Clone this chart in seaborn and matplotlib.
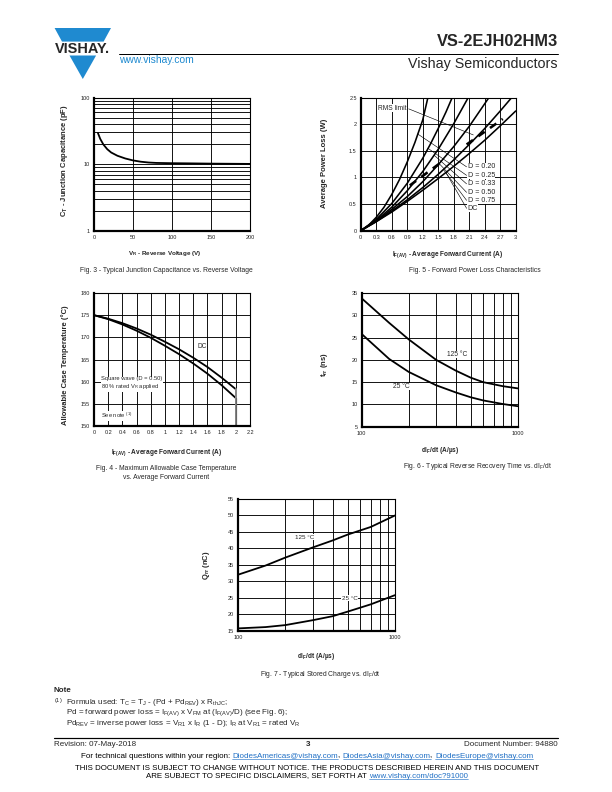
"""
VS-2EJH02HM3 datasheet page 3 - characteristic curves
"""

import matplotlib
matplotlib.use('Agg')
import matplotlib.pyplot as plt
import seaborn as sns
import numpy as np
import pandas as pd

sns.set_theme(style="white")
plt.rcParams['font.family'] = ['Liberation Sans', 'DejaVu Sans']
plt.rcParams['mathtext.fontset'] = 'custom'
plt.rcParams['mathtext.rm'] = 'Liberation Sans'
plt.rcParams['mathtext.bf'] = 'Liberation Sans:bold'
plt.rcParams['mathtext.it'] = 'Liberation Sans:italic'
plt.rcParams['mathtext.default'] = 'regular'

# ============ data ============

# Fig. 3 - junction capacitance
vr = [5, 8, 12, 17, 22, 30, 40, 50, 60, 70, 80, 100, 120, 150, 200]
ct = [29.5, 24.0, 19.8, 16.8, 15.0, 13.4, 12.2, 11.4, 10.9, 10.6, 10.45, 10.35, 10.3, 10.2, 10.1]

# Fig. 5 - forward power loss
if_d20 = [0, 0.15, 0.3, 0.45, 0.6, 0.75, 0.9, 1.05, 1.2, 1.3]
pl_d20 = [0, 0.10, 0.25, 0.44, 0.68, 0.96, 1.29, 1.66, 2.08, 2.5]
if_d25 = [0, 0.3, 0.6, 0.9, 1.2, 1.35, 1.5, 1.65, 1.77]
pl_d25 = [0, 0.21, 0.51, 0.89, 1.36, 1.63, 1.92, 2.23, 2.5]
if_d33 = [0, 0.3, 0.6, 0.9, 1.2, 1.5, 1.8, 2.08]
pl_d33 = [0, 0.19, 0.44, 0.75, 1.11, 1.53, 2.01, 2.5]
if_d50 = [0, 0.3, 0.6, 0.9, 1.2, 1.5, 1.8, 2.1, 2.48]
pl_d50 = [0, 0.18, 0.40, 0.64, 0.92, 1.24, 1.58, 1.96, 2.5]
if_d75 = [0, 0.3, 0.6, 0.9, 1.2, 1.5, 1.8, 2.1, 2.4, 2.7, 2.92]
pl_d75 = [0, 0.17, 0.37, 0.58, 0.81, 1.06, 1.33, 1.62, 1.92, 2.25, 2.5]
if_dc = [0, 0.3, 0.6, 0.9, 1.2, 1.5, 1.8, 2.1, 2.4, 2.7, 3.0]
pl_dc = [0, 0.17, 0.35, 0.55, 0.76, 0.98, 1.21, 1.45, 1.70, 1.97, 2.25]
duty_labels = ['D = 0.20', 'D = 0.25', 'D = 0.33', 'D = 0.50', 'D = 0.75', 'DC']
duty_label_y = [1.20, 1.04, 0.88, 0.72, 0.57, 0.42]
leader_x = [1.10, 1.30, 1.42, 1.52, 1.60, 1.65]
leader_y = [1.82, 1.55, 1.42, 1.26, 1.15, 1.09]
rms_lo_x = [0.95, 1.55]
rms_lo_y = [0.85, 1.28]
rms_hi_x = [2.05, 2.75]
rms_hi_y = [1.62, 2.10]

# Fig. 4 - allowable case temperature
ifav = [0, 0.2, 0.4, 0.6, 0.8, 1.0, 1.2, 1.4, 1.6, 1.8, 2.0]
tc_dc = [175, 174.2, 173.2, 172.0, 170.6, 169.0, 167.3, 165.4, 163.3, 160.9, 158.3]
tc_sq = [175, 174.1, 172.9, 171.5, 169.9, 168.1, 166.2, 164.1, 161.8, 159.2, 156.3]

# Fig. 6 - reverse recovery time
didt6 = [100, 150, 200, 300, 400, 500, 600, 800, 1000]
trr_125 = [33.8, 28.3, 24.6, 20.0, 17.6, 16.0, 15.0, 14.1, 13.6]
trr_25 = [25.8, 20.2, 17.3, 14.3, 12.7, 11.6, 10.9, 10.1, 9.6]

# Fig. 7 - stored charge
didt7 = [100, 150, 200, 300, 400, 500, 700, 1000]
qrr_125 = [32.0, 34.8, 37.2, 40.3, 42.4, 44.2, 46.5, 50.0]
qrr_25 = [15.7, 16.1, 16.7, 18.2, 19.4, 20.8, 23.0, 25.8]

# ============ page ============

W, H = 612, 792
fig = plt.figure(figsize=(8.5, 11), dpi=72)

page = fig.add_axes([0, 0, 1, 1])
page.set_xlim(0, W)
page.set_ylim(H, 0)
page.axis('off')

BLUE = '#1f8ad0'
LINK = '#1f6fc5'
BOX = dict(facecolor='white', edgecolor='none', pad=0.4)


def px_axes(x0, y0, x1, y1):
    return fig.add_axes([x0 / W, 1 - y1 / H, (x1 - x0) / W, (y1 - y0) / H])


def style_axes(ax):
    ax.set_axisbelow(True)
    ax.grid(True, which='both', color='black', linewidth=0.9)
    ax.tick_params(which='both', length=0, labelsize=5.5, pad=4, labelcolor='#222')
    for side in ['top', 'right']:
        ax.spines[side].set_linewidth(1.1)
        ax.spines[side].set_color('black')
    for side in ['left', 'bottom']:
        ax.spines[side].set_linewidth(2.2)
        ax.spines[side].set_color('black')


def run_line(xc, y, pieces, size):
    """centered line made of pieces, links underlined"""
    r = fig.canvas.get_renderer()
    arts = [page.text(0, y, s, fontsize=size, color=c, va='baseline') for s, c, _ in pieces]
    widths = [a.get_window_extent(r).width for a in arts]
    x = xc - sum(widths) / 2
    for a, w, (s, c, link) in zip(arts, widths, pieces):
        a.set_x(x)
        if link:
            page.plot([x, x + w], [y + 1.4, y + 1.4], color=c, lw=0.6)
        x += w


# header
page.fill([54.6, 111, 103.6, 62.0], [28, 28, 41.6, 41.6], color=BLUE, lw=0)
page.fill([69.5, 96.1, 82.8], [55.5, 55.5, 79], color=BLUE, lw=0)
page.text(82.8, 49.2, 'VISHAY.', fontsize=14.5, fontweight='bold', ha='center', va='center')
page.text(119, 60, 'www.vishay.com', fontsize=10.2, color=BLUE, va='center')
page.text(558, 42, 'VS-2EJH02HM3', fontsize=16.4, fontweight='bold', ha='right', va='center')
page.plot([118.5, 558], [53.6, 53.6], color='black', lw=1.0)
page.text(558, 64, 'Vishay Semiconductors', fontsize=14.2, ha='right', va='center')

# ============ Fig. 3 ============

ax = px_axes(94, 97.7, 250, 230.7)
sns.lineplot(x=vr, y=ct, ax=ax, color='black', linewidth=1.8, sort=False)
ax.set_yscale('log')
ax.set_xlim(0, 200)
ax.set_ylim(1, 100)
ax.set_xticks([0, 50, 100, 150, 200])
ax.set_yticks([1, 10, 100])
ax.set_yticklabels(['1', '10', '100'])
ax.yaxis.set_minor_locator(matplotlib.ticker.LogLocator(subs=np.arange(2, 10)))
ax.yaxis.set_minor_formatter(matplotlib.ticker.NullFormatter())
style_axes(ax)
page.text(65, 161, r'C$_\mathbf{T}$ - Junction Capacitance (pF)', fontsize=7.6, fontweight='bold',
          rotation=90, ha='center', va='center')
page.text(165, 253, r'V$_\mathbf{R}$ - Reverse Voltage (V)', fontsize=6.2, fontweight='bold',
          ha='center', va='center')
page.text(166, 270, 'Fig. 3 - Typical Junction Capacitance vs. Reverse Voltage', fontsize=6.8,
          ha='center', va='center')

# ============ Fig. 5 ============

ax = px_axes(360.7, 97.7, 515.7, 230.7)
for xs, ys in [(if_d20, pl_d20), (if_d25, pl_d25), (if_d33, pl_d33),
               (if_d50, pl_d50), (if_d75, pl_d75), (if_dc, pl_dc)]:
    sns.lineplot(x=xs, y=ys, ax=ax, color='black', linewidth=1.6, sort=False)
ax.plot(rms_lo_x, rms_lo_y, color='black', lw=2.6, dashes=(3, 2.5))
ax.plot(rms_hi_x, rms_hi_y, color='black', lw=2.6, dashes=(3, 2.5))
ax.set_xlim(0, 3)
ax.set_ylim(0, 2.5)
ax.set_xticks([0, 0.3, 0.6, 0.9, 1.2, 1.5, 1.8, 2.1, 2.4, 2.7, 3])
ax.set_xticklabels(['0', '0.3', '0.6', '0.9', '1.2', '1.5', '1.8', '2.1', '2.4', '2.7', '3'])
ax.set_yticks([0, 0.5, 1, 1.5, 2, 2.5])
ax.set_yticklabels(['0', '0.5', '1', '1.5', '2', '2.5'])
style_axes(ax)
ax.plot([0.93, 2.18], [2.29, 1.80], color='black', lw=0.6)
ax.text(0.33, 2.3, 'RMS limit', fontsize=6.6, va='center', bbox=BOX)
for lab, ly, ex, ey in zip(duty_labels, duty_label_y, leader_x, leader_y):
    ax.plot([2.05, ex], [ly, ey], color='black', lw=0.6)
    ax.text(2.07, ly, lab, fontsize=7.1, va='center', bbox=BOX)
page.text(325, 163, 'Average Power Loss (W)', fontsize=7.6, fontweight='bold',
          rotation=90, ha='center', va='center')
page.text(447, 255, r'I$_\mathbf{F(AV)}$ - Average Forward Current (A)', fontsize=6.5,
          fontweight='bold', ha='center', va='center')
page.text(475, 270, 'Fig. 5 - Forward Power Loss Characteristics', fontsize=6.8,
          ha='center', va='center')

# ============ Fig. 4 ============

ax = px_axes(94, 293, 250, 426)
sns.lineplot(x=ifav, y=tc_dc, ax=ax, color='black', linewidth=1.8, sort=False)
sns.lineplot(x=ifav, y=tc_sq, ax=ax, color='black', linewidth=1.8, sort=False)
ax.plot([ifav[-1], ifav[-1]], [tc_dc[-1], 150], color='#888888', lw=2.0)
ax.plot([ifav[-1], ifav[-1]], [tc_sq[-1], 150], color='#666666', lw=1.2)
ax.set_xlim(0, 2.2)
ax.set_ylim(150, 180)
ax.set_xticks(np.arange(0, 2.21, 0.2))
ax.set_xticklabels(['0', '0.2', '0.4', '0.6', '0.8', '1', '1.2', '1.4', '1.6', '1.8', '2', '2.2'])
ax.set_yticks([150, 155, 160, 165, 170, 175, 180])
style_axes(ax)
ax.text(1.46, 168.0, 'DC', fontsize=6.5, va='center', bbox=BOX)
ax.text(0.1, 159.6, 'Square wave (D = 0.50)\n80 % rated V$_R$ applied', fontsize=5.8,
        va='center', linespacing=1.25, bbox=BOX)
ax.text(0.1, 152.3, 'See note $^{(1)}$', fontsize=5.8, va='center', bbox=BOX)
page.text(65, 365, 'Allowable Case Temperature (°C)', fontsize=7.6, fontweight='bold',
          rotation=90, ha='center', va='center')
page.text(166, 453, r'I$_\mathbf{F(AV)}$ - Average Forward Current (A)', fontsize=6.5,
          fontweight='bold', ha='center', va='center')
page.text(166, 469, 'Fig. 4 - Maximum Allowable Case Temperature', fontsize=6.8,
          ha='center', va='center')
page.text(166, 477.5, 'vs. Average Forward Current', fontsize=6.8, ha='center', va='center')

# ============ Fig. 6 ============

ax = px_axes(361.7, 293, 517.7, 426.7)
sns.lineplot(x=didt6, y=trr_125, ax=ax, color='black', linewidth=1.8, sort=False)
sns.lineplot(x=didt6, y=trr_25, ax=ax, color='black', linewidth=1.8, sort=False)
ax.set_xscale('log')
ax.set_xlim(100, 1000)
ax.set_ylim(5, 35)
ax.set_xticks([100, 1000])
ax.set_xticklabels(['100', '1000'])
ax.xaxis.set_minor_locator(matplotlib.ticker.LogLocator(subs=np.arange(2, 10)))
ax.xaxis.set_minor_formatter(matplotlib.ticker.NullFormatter())
ax.set_yticks([5, 10, 15, 20, 25, 30, 35])
style_axes(ax)
ax.text(412, 21.2, '125 °C', fontsize=6.6, ha='center', va='center', bbox=BOX)
ax.text(180, 14.0, '25 °C', fontsize=6.6, ha='center', va='center', bbox=BOX)
page.text(325, 365, r't$_\mathbf{rr}$ (ns)', fontsize=7.6, fontweight='bold',
          rotation=90, ha='center', va='center')
page.text(440, 450, r'dI$_\mathbf{F}$/dt (A/µs)', fontsize=6.5, fontweight='bold',
          ha='center', va='center')
page.text(477.5, 466.7, r'Fig. 6 - Typical Reverse Recovery Time vs. dI$_F$/dt', fontsize=6.8,
          ha='center', va='center')

# ============ Fig. 7 ============

ax = px_axes(238, 499, 395, 630.7)
sns.lineplot(x=didt7, y=qrr_125, ax=ax, color='black', linewidth=1.8, sort=False)
sns.lineplot(x=didt7, y=qrr_25, ax=ax, color='black', linewidth=1.8, sort=False)
ax.set_xscale('log')
ax.set_xlim(100, 1000)
ax.set_ylim(15, 55)
ax.set_xticks([100, 1000])
ax.set_xticklabels(['100', '1000'])
ax.xaxis.set_minor_locator(matplotlib.ticker.LogLocator(subs=np.arange(2, 10)))
ax.xaxis.set_minor_formatter(matplotlib.ticker.NullFormatter())
ax.set_yticks([15, 20, 25, 30, 35, 40, 45, 50, 55])
style_axes(ax)
ax.text(267, 43.4, '125 °C', fontsize=6.3, ha='center', va='center', bbox=BOX)
ax.text(514, 24.85, '25 °C', fontsize=6.3, ha='center', va='center', bbox=BOX)
page.text(206, 565, r'Q$_\mathbf{rr}$ (nC)', fontsize=7.6, fontweight='bold',
          rotation=90, ha='center', va='center')
page.text(316.5, 656.7, r'dI$_\mathbf{F}$/dt (A/µs)', fontsize=6.5, fontweight='bold',
          ha='center', va='center')
page.text(320.8, 674, r'Fig. 7 - Typical Stored Charge vs. dI$_F$/dt', fontsize=6.8,
          ha='center', va='center')

# ============ note & footer ============

page.text(53.5, 691, 'Note', fontsize=8, fontweight='bold', va='center')
page.text(53.5, 701, '$^{(1)}$', fontsize=8, va='center')
note_lines = '\n'.join([
    r'Formula used: T$_C$ = T$_J$ - (Pd + Pd$_{REV}$) x R$_{thJC}$;',
    r'Pd = forward power loss = I$_{F(AV)}$ x V$_{FM}$ at (I$_{F(AV)}$/D) (see Fig. 6);',
    r'Pd$_{REV}$ = inverse power loss = V$_{R1}$ x I$_R$ (1 - D); I$_R$ at V$_{R1}$ = rated V$_R$',
])
page.text(65.5, 697, note_lines, fontsize=8, va='top', linespacing=0.95)

page.plot([54, 558], [738.4, 738.4], color='black', lw=1.2)
page.text(54, 744, 'Revision: 07-May-2018', fontsize=8, va='center')
page.text(308, 745, '3', fontsize=8, fontweight='bold', ha='center', va='center')
page.text(558, 744, 'Document Number: 94880', fontsize=8, ha='right', va='center')
run_line(307, 757.5, [('For technical questions within your region: ', 'black', False),
                      ('DiodesAmericas@vishay.com', LINK, True), (', ', 'black', False),
                      ('DiodesAsia@vishay.com', LINK, True), (', ', 'black', False),
                      ('DiodesEurope@vishay.com', LINK, True)], 8)
run_line(307, 769.5, [('THIS DOCUMENT IS SUBJECT TO CHANGE WITHOUT NOTICE. THE PRODUCTS DESCRIBED '
                       'HEREIN AND THIS DOCUMENT', 'black', False)], 7.85)
run_line(307, 777.5, [('ARE SUBJECT TO SPECIFIC DISCLAIMERS, SET FORTH AT ', 'black', False),
                      ('www.vishay.com/doc?91000', LINK, True)], 7.85)

fig.savefig('out.png', dpi=72)
